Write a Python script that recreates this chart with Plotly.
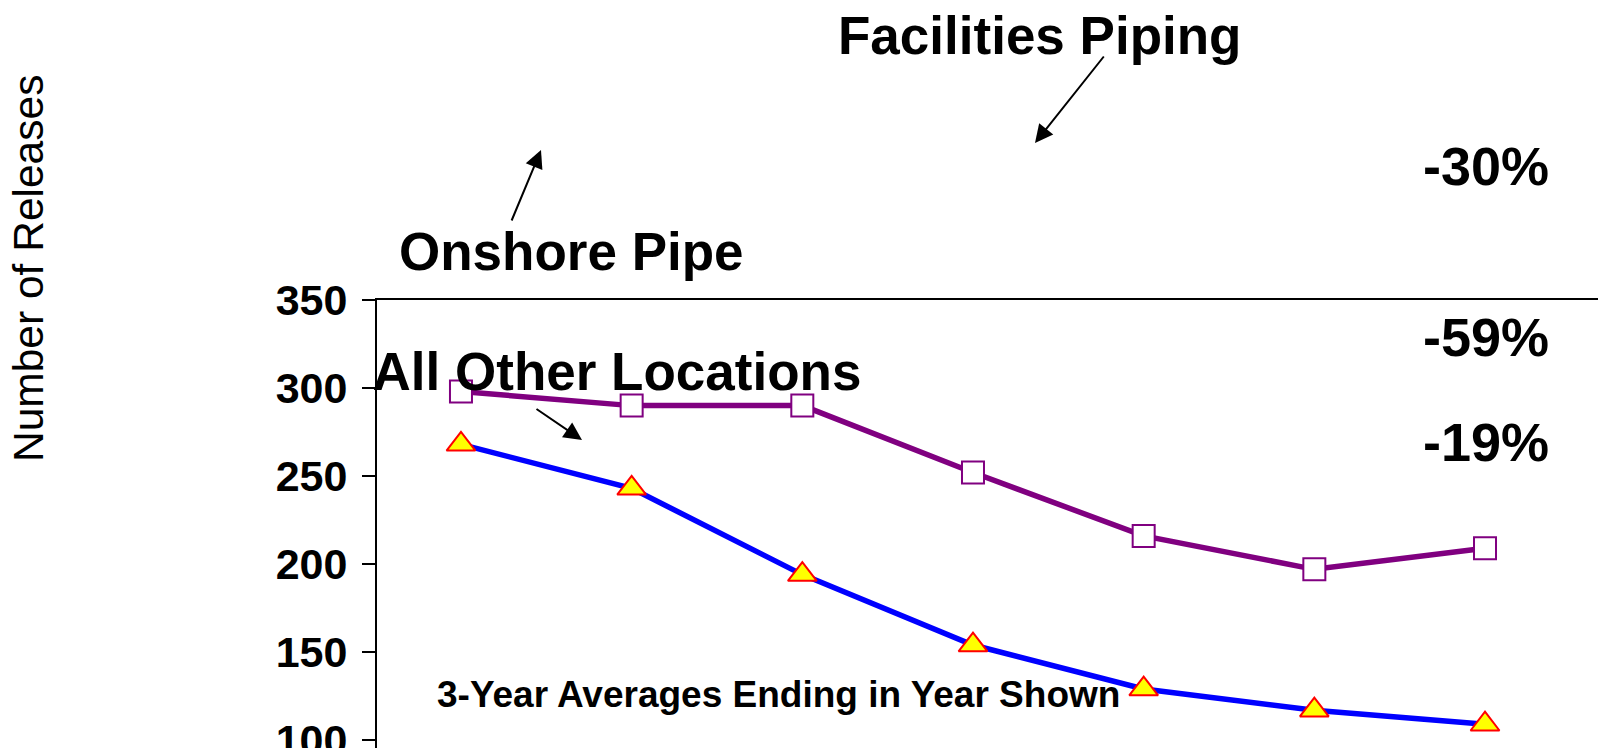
import plotly.graph_objects as go

# ---- data ----
periods = ["2002", "2003", "2004", "2005", "2006", "2007", "2008"]
facilities_piping = [298, 290, 290, 252, 216, 197, 209]
onshore_pipe = [268, 243, 194, 154, 129, 117, 109]
y_ticks = [100, 150, 200, 250, 300, 350]
pct_labels = ["-30%", "-59%", "-19%"]

FONT = "Liberation Sans, Arial, sans-serif"
W, H = 1598, 748
L, R, T, B = 377, 0, 300, 0


def px(xp):
    return (xp - L) / (W - L - R)


def py(yp):
    return (H - B - yp) / (H - T - B)


fig = go.Figure()

# Label drawn beneath the markers (as in the reference)
fig.add_trace(go.Scatter(
    x=[px(617)], y=[py(377)], xaxis="x2", yaxis="y2",
    mode="text", text=["All Other Locations"],
    textfont=dict(family=FONT, size=53, color="black", weight="bold"),
    textposition="middle center", cliponaxis=False, hoverinfo="skip",
    showlegend=False,
))

fig.add_trace(go.Scatter(
    x=periods, y=onshore_pipe, mode="lines+markers", name="Onshore Pipe",
    line=dict(color="#0000FF", width=5.5),
    marker=dict(symbol="triangle-up", size=25, color="#FFFF00",
                line=dict(color="#FF0000", width=2)),
    cliponaxis=False, showlegend=False,
))
fig.add_trace(go.Scatter(
    x=periods, y=facilities_piping, mode="lines+markers", name="Facilities Piping",
    line=dict(color="#800080", width=5.5),
    marker=dict(symbol="square", size=22, color="white",
                line=dict(color="#800080", width=2)),
    cliponaxis=False, showlegend=False,
))

ann = []


def text(t, x, y, size, weight="bold", angle=0):
    ann.append(dict(text=t, x=px(x), y=py(y), xref="paper", yref="paper",
                    xanchor="center", yanchor="middle", showarrow=False,
                    textangle=angle,
                    font=dict(family=FONT, size=size, color="black", weight=weight)))


def arrow(hx, hy, tx, ty):
    ann.append(dict(text="", x=px(hx), y=py(hy), xref="paper", yref="paper",
                    ax=tx - hx, ay=ty - hy, axref="pixel", ayref="pixel",
                    showarrow=True, arrowhead=2, arrowsize=1.8, arrowwidth=2,
                    arrowcolor="black", standoff=0, startstandoff=0))


text("Facilities Piping", 1039, 35, 53)
text("Onshore Pipe", 571, 252, 53)
text(pct_labels[0], 1486, 166, 54)
text(pct_labels[1], 1486, 337, 54)
text(pct_labels[2], 1486, 442, 54)
text("3-Year Averages Ending in Year Shown", 778, 694, 37)
text("Number of Releases", 28, 269, 42.5, weight="normal", angle=-90)

arrow(1035, 143, 1105, 55)
arrow(541, 150, 511, 222)
arrow(582, 440, 535, 408)

fig.update_layout(
    width=W, height=H,
    margin=dict(l=L, r=R, t=T, b=B, pad=0, autoexpand=False),
    paper_bgcolor="white", plot_bgcolor="white",
    annotations=ann,
    xaxis=dict(
        type="category", range=[-0.492, 6.662], side="top",
        showline=True, linecolor="black", linewidth=2,
        showticklabels=False, ticks="", showgrid=False, zeroline=False,
        automargin=False,
    ),
    yaxis=dict(
        range=[95.5, 350], tickvals=y_ticks,
        showline=True, linecolor="black", linewidth=2,
        ticks="outside", ticklen=13, tickwidth=2, tickcolor="black",
        ticklabelstandoff=6, ticklabeloverflow="allow",
        tickfont=dict(family=FONT, size=43, color="black", weight="bold"),
        showgrid=False, zeroline=False, automargin=False,
    ),
    xaxis2=dict(range=[0, 1], overlaying="x", visible=False, fixedrange=True),
    yaxis2=dict(range=[0, 1], overlaying="y", visible=False, fixedrange=True),
)

fig.write_html(
    "out.html",
    config={"displayModeBar": False},
    post_script="document.body.style.margin='0';document.body.style.overflow='hidden';",
)
